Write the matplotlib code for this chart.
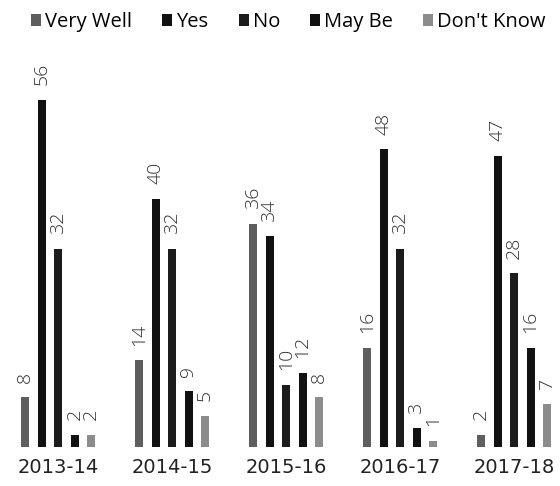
import matplotlib
matplotlib.use("Agg")
import matplotlib.pyplot as plt
import numpy as np

years = ["2013-14", "2014-15", "2015-16", "2016-17", "2017-18"]
series = ["Very Well", "Yes", "No", "May Be", "Don't Know"]
very_well = [8, 14, 36, 16, 2]
yes = [56, 40, 34, 48, 47]
no = [32, 32, 10, 32, 28]
may_be = [2, 9, 12, 3, 16]
dont_know = [2, 5, 8, 1, 7]
values = [very_well, yes, no, may_be, dont_know]
colors = ["#5e5e5e", "#111111", "#1c1c1c", "#111111", "#8c8c8c"]

plt.rcParams["font.family"] = ["Open Sans", "DejaVu Sans"]

W, H, DPI = 560, 486, 100
fig = plt.figure(figsize=(W / DPI, H / DPI), dpi=DPI)

unit = 114.0          # pixels between group centres
left0 = 58.0          # pixel x of first group centre
base = 39.0           # pixel height of baseline above bottom
top_px = 436.0        # pixel height of axes top above bottom
px_per_val = 6.2

ax = fig.add_axes([0, base / H, 1, (top_px - base) / H])
ax.set_xlim(-left0 / unit, (W - left0) / unit)
ax.set_ylim(0, (top_px - base) / px_per_val)

x = np.arange(len(years))
step = 16.5 / unit
width = 8.0 / unit
for i, (name, vals, c) in enumerate(zip(series, values, colors)):
    xs = x + (i - 2) * step
    ax.bar(xs, vals, width=width, color=c, label=name, linewidth=0)
    for xi, v in zip(xs, vals):
        ax.annotate(str(v), (xi, v), xytext=(0, 10.5), textcoords="offset points",
                    rotation=90, ha="center", va="bottom", fontsize=14,
                    color="#333333", fontweight="light")

for s in ax.spines.values():
    s.set_visible(False)
ax.set_yticks([])
ax.set_xticks(x)
ax.set_xticklabels(years, fontsize=14, color="#222222", family="DejaVu Sans")
ax.tick_params(axis="x", length=0, pad=8)

fig.legend(loc="center", bbox_to_anchor=(0.515, 1 - 22 / H), ncol=5, frameon=False,
           fontsize=14.5, handlelength=0.5, handleheight=0.5, handletextpad=0.2,
           columnspacing=1.5, borderpad=0, borderaxespad=0)

fig.savefig("out.png", dpi=DPI)
